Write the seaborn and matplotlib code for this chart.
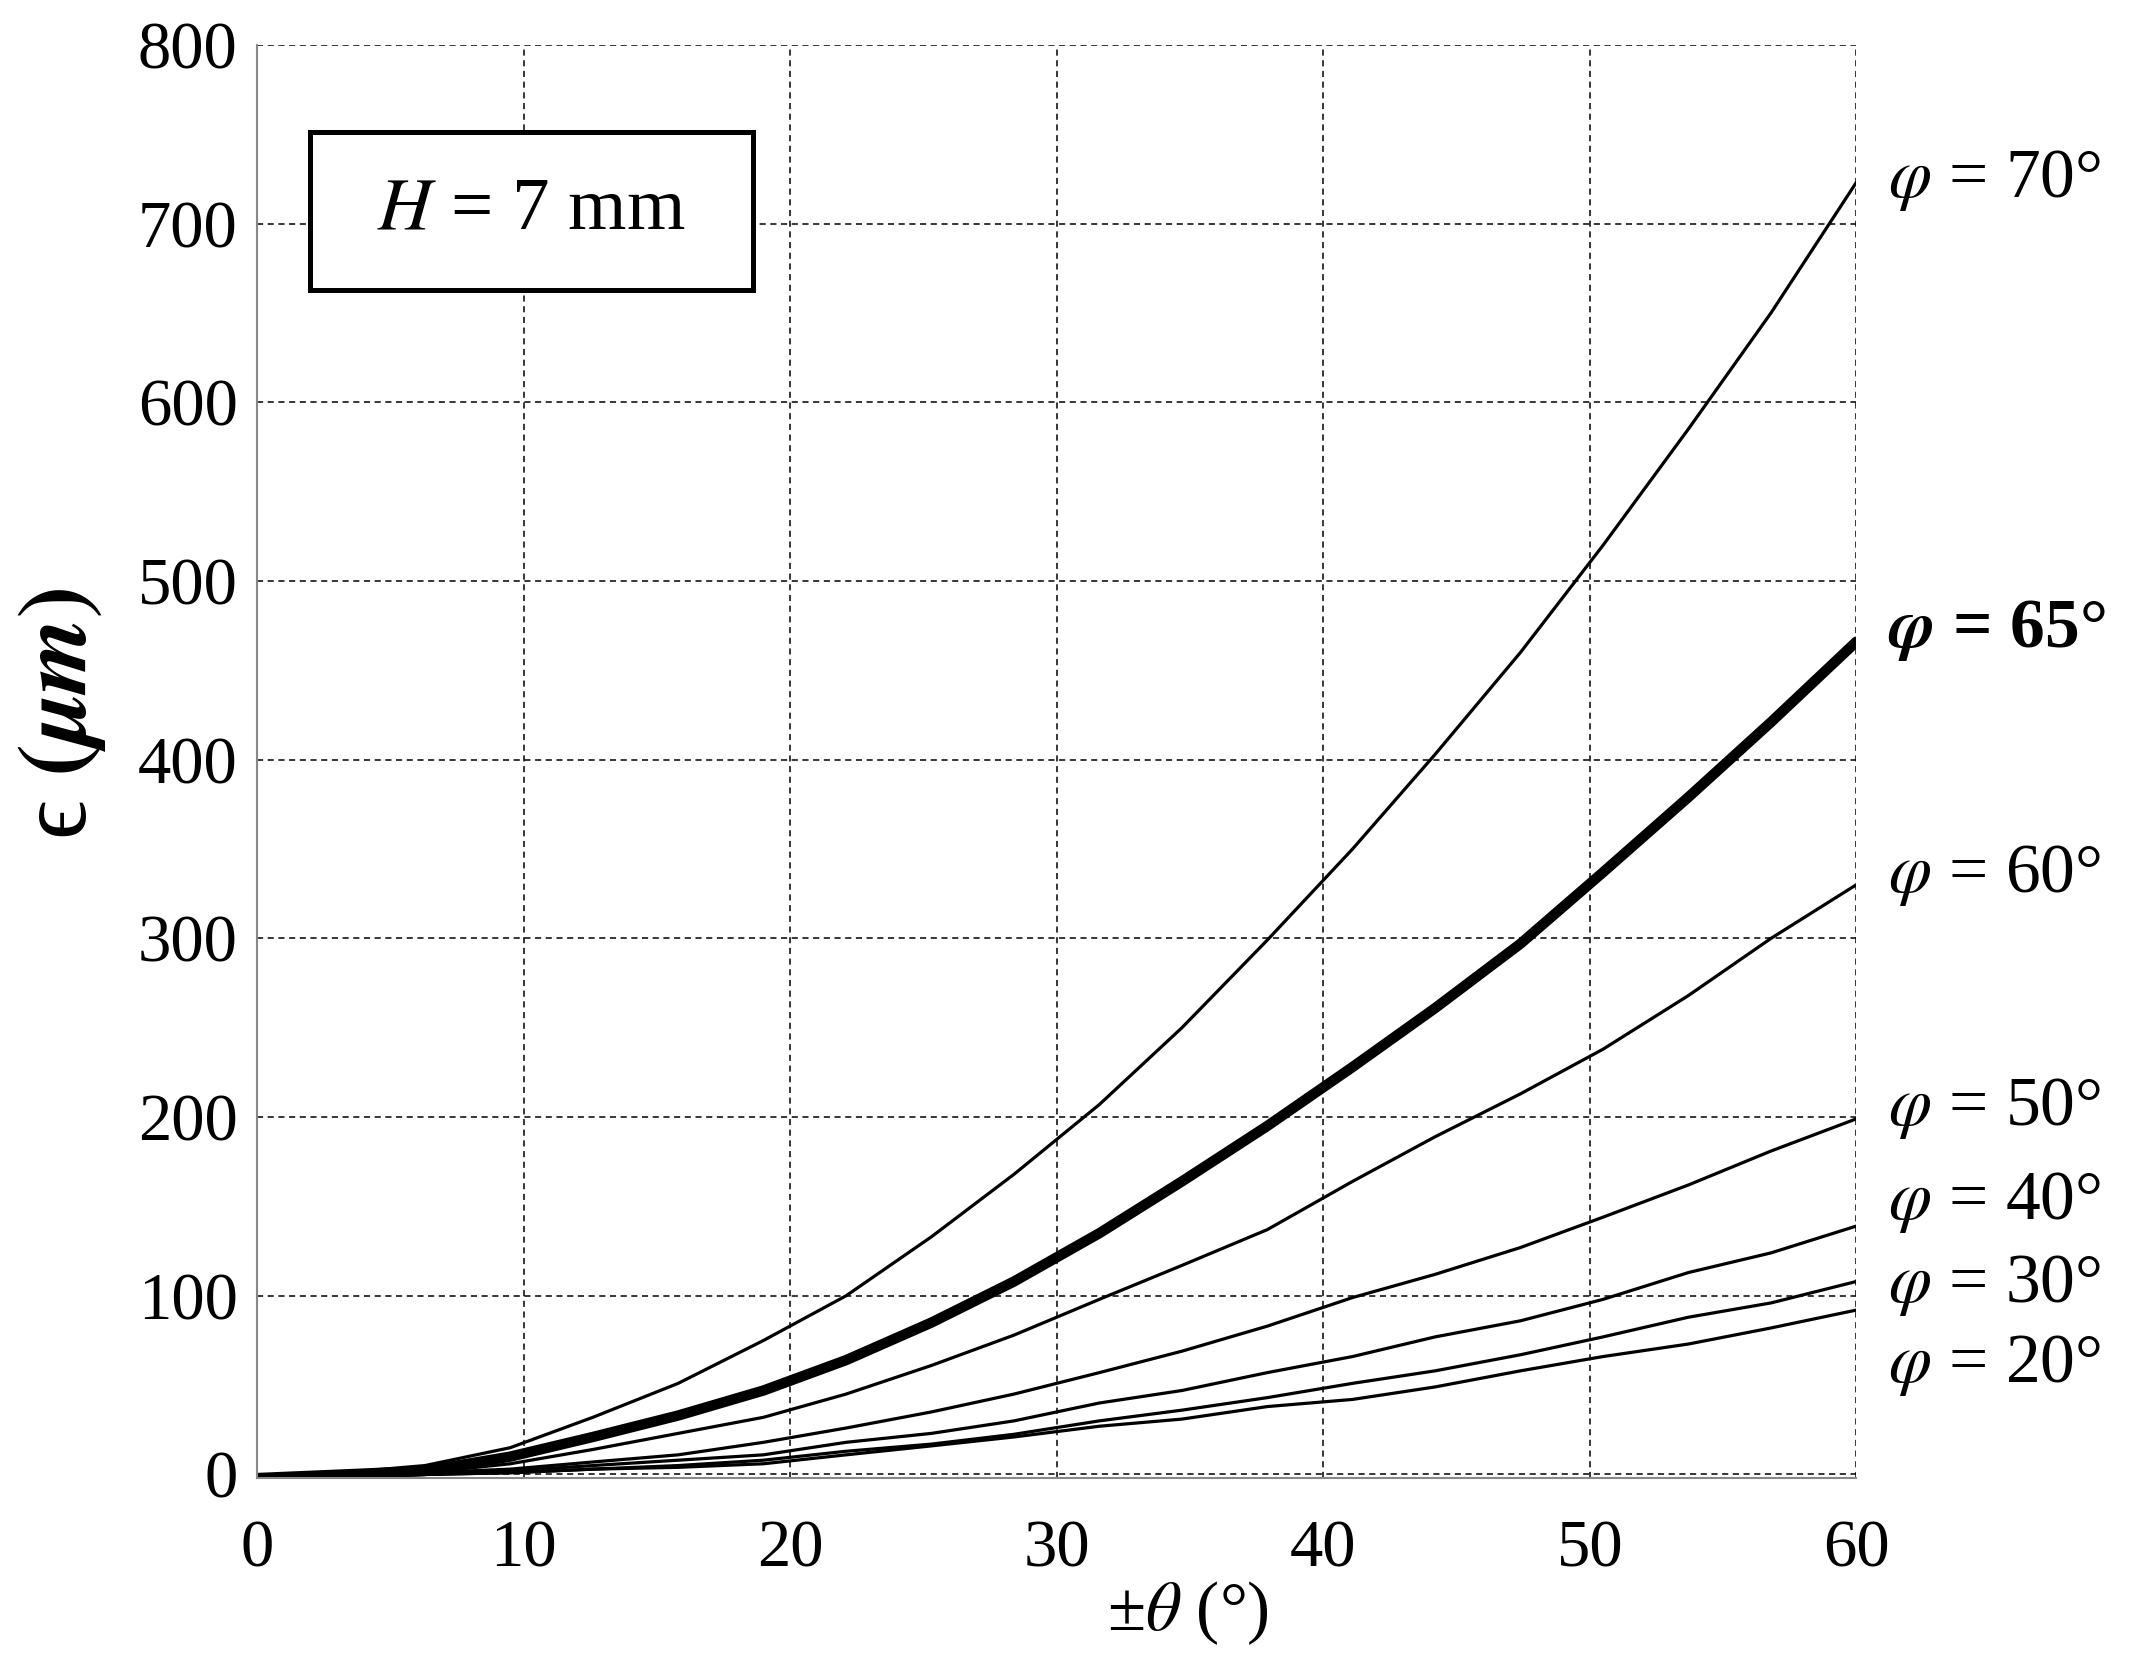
import numpy as np
import pandas as pd
import matplotlib
matplotlib.use("Agg")
import matplotlib.pyplot as plt
import seaborn as sns
from matplotlib.patches import Rectangle

# angle theta (deg) where the curves are sampled
theta = [0, 3.2, 6.3, 9.5, 12.6, 15.8, 19.0, 22.1, 25.3, 28.4,
         31.6, 34.7, 37.9, 41.1, 44.2, 47.4, 50.5, 53.7, 56.8, 60.0]

# epsilon (um) for each phi
eps_70 = [-2, 1, 5, 15, 32, 51, 75, 100, 133, 168, 207, 250, 299, 350, 403, 460, 520, 585, 650, 723]
eps_65 = [-2, 0, 2, 10, 21, 33, 47, 64, 85, 108, 135, 164, 195, 228, 261, 297, 337, 379, 421, 466]
eps_60 = [-2, 0, 1, 6, 14, 23, 32, 45, 61, 78, 98, 117, 137, 164, 189, 213, 238, 268, 300, 330]
eps_50 = [-2, 0, 1, 3, 7, 11, 18, 26, 35, 45, 57, 69, 83, 99, 112, 127, 144, 162, 181, 199]
eps_40 = [-2, -1, 0, 2, 5, 8, 11, 18, 23, 30, 40, 47, 57, 66, 77, 86, 98, 113, 124, 139]
eps_30 = [-2, -1, 0, 1, 3, 5, 8, 13, 17, 22.5, 30, 36, 43, 51, 58, 67, 77, 88, 96, 108]
eps_20 = [-2, -1, 0, 1, 3, 4, 6, 11, 16, 21, 27, 31, 38, 42, 49, 58, 66, 73, 82, 92]

phi_names = ['70', '65', '60', '50', '40', '30', '20']
label_y = [724, 472, 335, 205, 152, 106, 61]

sns.set_theme(style='white')
plt.rcParams['font.family'] = ['Liberation Serif', 'DejaVu Serif']
plt.rcParams['mathtext.fontset'] = 'stix'
plt.rcParams['text.color'] = 'black'
plt.rcParams['axes.labelcolor'] = 'black'
plt.rcParams['xtick.color'] = 'black'
plt.rcParams['ytick.color'] = 'black'

fig = plt.figure(figsize=(21.51, 16.60), dpi=100)
ax = fig.add_axes([0.1195, 0.1096, 0.7435, 0.8634])

series = [eps_70, eps_65, eps_60, eps_50, eps_40, eps_30, eps_20]
for name, vals in zip(phi_names, series):
    lw = 7.5 if name == '65' else 2.3
    sns.lineplot(x=theta, y=vals, color='black', lw=lw, ax=ax)

ax.set_xlim(0, 60)
ax.set_ylim(-2, 800)
ax.set_xticks([0, 10, 20, 30, 40, 50, 60])
ax.set_yticks([0, 100, 200, 300, 400, 500, 600, 700, 800])
ax.tick_params(axis='both', labelsize=48, length=0, colors='black')
ax.tick_params(axis='x', pad=30)
ax.tick_params(axis='y', pad=14)
ax.grid(True, color='black', linestyle=(0, (4, 3)), lw=1.1)

for s in ['top', 'right']:
    ax.spines[s].set_visible(False)
for s in ['left', 'bottom']:
    ax.spines[s].set_color('#888888')
    ax.spines[s].set_linewidth(1.5)

ax.set_xlabel(r'±$\theta$ (°)', fontsize=50, color='black')
ax.xaxis.set_label_coords(0.582, -0.094, transform=ax.transAxes)
ax.xaxis.label.set_va('center')
ax.set_ylabel('\u03f5 ' + r'$\mathbf{(}\mathbfit{\mu m}\mathbf{)}$', fontsize=70, color='black')
ax.yaxis.set_label_coords(-0.122, 0.533, transform=ax.transAxes)
ax.yaxis.label.set_va('center')

for name, yl in zip(phi_names, label_y):
    if name == '65':
        txt = r'$\mathbfit{\varphi}$ = ' + name + '°'
        ax.text(61.2, yl, txt, fontsize=50, fontweight='bold', va='center', ha='left', clip_on=False)
    else:
        txt = r'$\varphi$ = ' + name + '°'
        ax.text(61.2, yl, txt, fontsize=50, va='center', ha='left', clip_on=False)

ax.add_patch(Rectangle((2.0, 663), 16.6, 88, facecolor='white', edgecolor='black', lw=3.6, zorder=5))
ax.text(10.3, 707, r'$H$ = 7 mm', fontsize=54, ha='center', va='center', zorder=6)

fig.savefig('out.png', dpi=100)
